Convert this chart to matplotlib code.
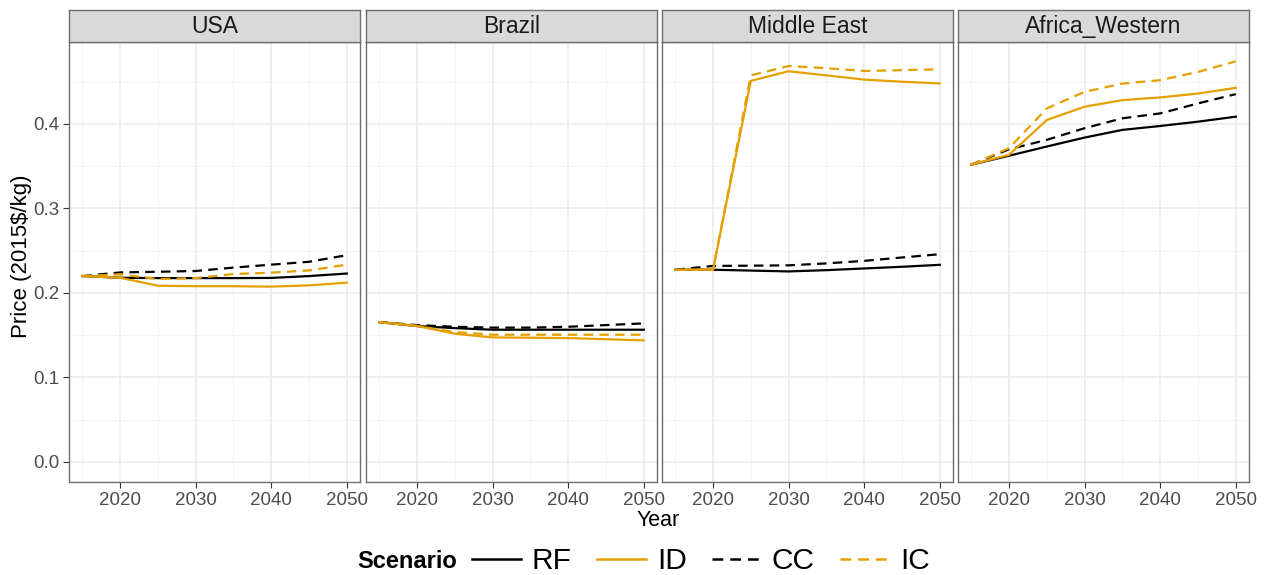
import matplotlib
matplotlib.use("Agg")
import matplotlib.pyplot as plt
from matplotlib.lines import Line2D

plt.rcParams['font.family'] = ['Liberation Sans', 'DejaVu Sans']

years = [2015, 2020, 2025, 2030, 2035, 2040, 2045, 2050]
regions = ["USA", "Brazil", "Middle East", "Africa_Western"]
scenarios = ["RF", "ID", "CC", "IC"]

usa_rf = [0.220, 0.218, 0.2176, 0.2176, 0.2176, 0.2178, 0.220, 0.223]
usa_id = [0.220, 0.218, 0.2086, 0.208, 0.208, 0.2075, 0.209, 0.2122]
usa_cc = [0.220, 0.2243, 0.2251, 0.226, 0.230, 0.2335, 0.2369, 0.2447]
usa_ic = [0.220, 0.222, 0.2165, 0.2176, 0.2224, 0.224, 0.2267, 0.2335]

bra_rf = [0.1655, 0.1608, 0.1584, 0.1565, 0.1565, 0.1565, 0.1565, 0.1565]
bra_id = [0.1655, 0.161, 0.1518, 0.1474, 0.147, 0.1466, 0.1453, 0.1439]
bra_cc = [0.1655, 0.162, 0.160, 0.159, 0.159, 0.160, 0.162, 0.164]
bra_ic = [0.1655, 0.161, 0.1537, 0.1506, 0.1506, 0.1506, 0.1506, 0.1506]

mea_rf = [0.2275, 0.2275, 0.2265, 0.2255, 0.227, 0.229, 0.231, 0.2333]
mea_id = [0.2275, 0.2275, 0.451, 0.4624, 0.4575, 0.4525, 0.450, 0.448]
mea_cc = [0.2275, 0.232, 0.2323, 0.2327, 0.235, 0.238, 0.242, 0.2459]
mea_ic = [0.2275, 0.2275, 0.4575, 0.4686, 0.466, 0.4627, 0.4637, 0.4647]

afr_rf = [0.3518, 0.3624, 0.3733, 0.3839, 0.393, 0.3976, 0.4027, 0.4086]
afr_id = [0.3518, 0.3635, 0.4047, 0.4204, 0.4282, 0.4314, 0.436, 0.4427]
afr_cc = [0.3518, 0.370, 0.3812, 0.395, 0.4067, 0.4125, 0.4243, 0.4353]
afr_ic = [0.3518, 0.3714, 0.4184, 0.438, 0.4478, 0.4518, 0.4616, 0.4741]

data = {
    "USA": [usa_rf, usa_id, usa_cc, usa_ic],
    "Brazil": [bra_rf, bra_id, bra_cc, bra_ic],
    "Middle East": [mea_rf, mea_id, mea_cc, mea_ic],
    "Africa_Western": [afr_rf, afr_id, afr_cc, afr_ic],
}

colors = {"RF": "black", "ID": "#E69F00", "CC": "black", "IC": "#E69F00"}
dash = (0, (4.3, 2.8))
styles = {"RF": "-", "ID": "-", "CC": dash, "IC": dash}
draw_order = ["RF", "CC", "ID", "IC"]

W, H = 1272, 575
fig = plt.figure(figsize=(W / 100, H / 100), dpi=100)

lefts = [69, 366, 662, 958]
pw = 291
top_px, bot_px = 42, 482
strip_top = 10

ymin, ymax = -0.0237, 0.497
xmin, xmax = 2013.25, 2051.75
border = "#6E6E6E"

for i, reg in enumerate(regions):
    ax = fig.add_axes([lefts[i] / W, 1 - bot_px / H, pw / W, (bot_px - top_px) / H])
    ax.set_xlim(xmin, xmax)
    ax.set_ylim(ymin, ymax)
    ax.set_facecolor("white")
    for y in [0.05, 0.15, 0.25, 0.35, 0.45]:
        ax.axhline(y, color="#F2F2F2", lw=0.6, zorder=0)
    for x in [2015, 2025, 2035, 2045]:
        ax.axvline(x, color="#F2F2F2", lw=0.6, zorder=0)
    for y in [0.0, 0.1, 0.2, 0.3, 0.4]:
        ax.axhline(y, color="#EBEBEB", lw=1.1, zorder=0)
    for x in [2020, 2030, 2040, 2050]:
        ax.axvline(x, color="#EBEBEB", lw=1.1, zorder=0)
    series = dict(zip(scenarios, data[reg]))
    for s in draw_order:
        ax.plot(years, series[s], color=colors[s], linestyle=styles[s], lw=1.6, zorder=3)
    ax.set_xticks([2020, 2030, 2040, 2050])
    ax.set_yticks([0.0, 0.1, 0.2, 0.3, 0.4])
    ax.tick_params(axis="both", colors="#333333", length=4, width=0.8, labelsize=13.5,
                   labelcolor="#4D4D4D", pad=3)
    if i == 0:
        ax.set_yticklabels(["0.0", "0.1", "0.2", "0.3", "0.4"])
    else:
        ax.tick_params(axis="y", length=0, labelleft=False)
    for sp in ax.spines.values():
        sp.set_color(border)
        sp.set_linewidth(1.0)
    # strip
    sax = fig.add_axes([lefts[i] / W, 1 - top_px / H, pw / W, (top_px - strip_top) / H])
    sax.set_xlim(0, 1)
    sax.set_ylim(0, 1)
    sax.set_facecolor("#D9D9D9")
    sax.set_xticks([])
    sax.set_yticks([])
    for sp in sax.spines.values():
        sp.set_color(border)
        sp.set_linewidth(1.0)
    sax.text(0.5, 0.48, reg, ha="center", va="center", fontsize=16.5, color="#1A1A1A")

fig.text(658 / W, 1 - 521 / H, "Year", ha="center", va="center", fontsize=15.5, color="black")
fig.text(22 / W, 1 - 256 / H, "Price (2015$/kg)", ha="center", va="center",
         rotation=90, fontsize=16, color="black")

fig.text(357 / W, 1 - 562 / H, "Scenario", ha="left", va="center", fontsize=17,
         fontweight="bold", color="black")
handles = [Line2D([0], [0], color=colors[s], linestyle=styles[s], lw=1.8) for s in scenarios]
leg = fig.legend(handles, scenarios, loc="center left", bbox_to_anchor=(472 / W, 1 - 561 / H),
                 ncol=4, frameon=False, fontsize=21.5, handlelength=1.65, handletextpad=0.35,
                 columnspacing=0.85, borderaxespad=0, borderpad=0)

fig.savefig("out.png", dpi=100, facecolor="white")
